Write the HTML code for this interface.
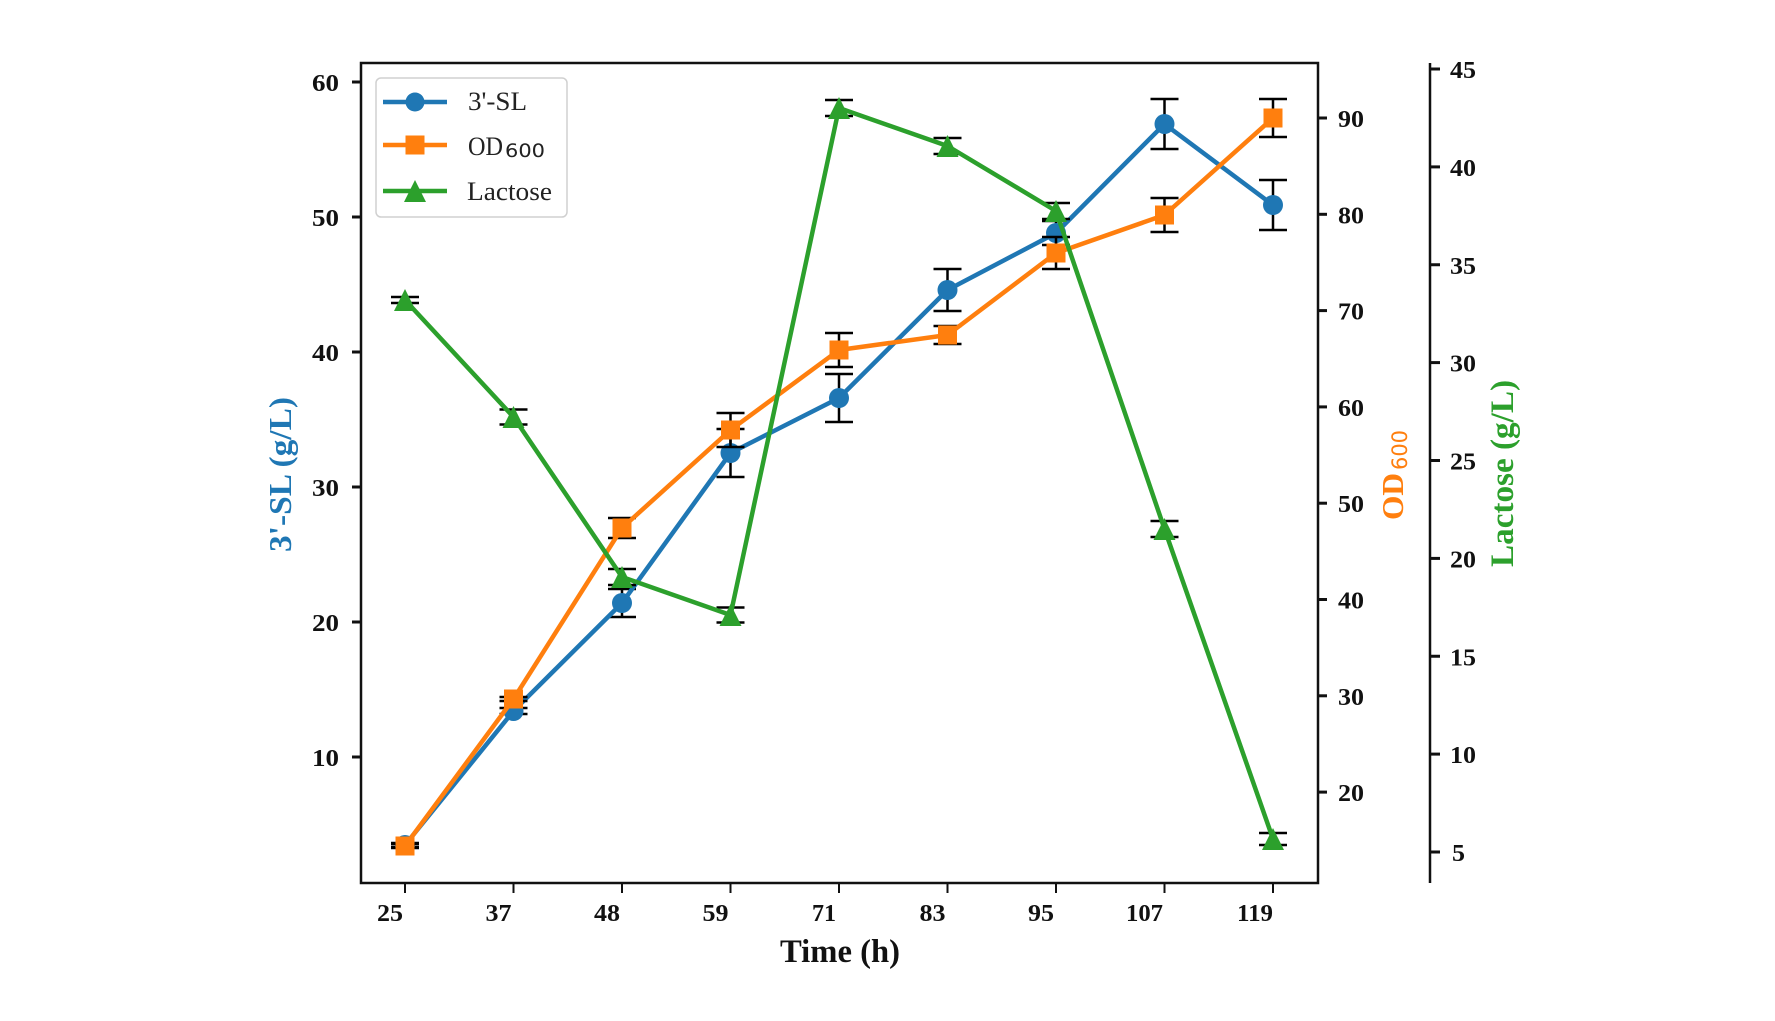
<!DOCTYPE html>
<html>
<head>
<meta charset="utf-8">
<style>
html,body{margin:0;padding:0;background:#fff;}
svg{display:block;}
.tk{font-family:"Liberation Serif",serif;font-weight:bold;font-size:24px;fill:#111;}
</style>
</head>
<body>
<svg width="1775" height="1021" viewBox="0 0 1775 1021" xmlns="http://www.w3.org/2000/svg">
<rect x="0" y="0" width="1775" height="1021" fill="#fff"/>

<!-- Left y ticks -->
<g stroke="#111" stroke-width="3">
<line x1="352" y1="82" x2="361" y2="82"/>
<line x1="352" y1="217" x2="361" y2="217"/>
<line x1="352" y1="352" x2="361" y2="352"/>
<line x1="352" y1="487" x2="361" y2="487"/>
<line x1="352" y1="622" x2="361" y2="622"/>
<line x1="352" y1="757" x2="361" y2="757"/>
</g>
<g class="tk" text-anchor="end">
<text x="339" y="91" textLength="27" lengthAdjust="spacingAndGlyphs">60</text>
<text x="339" y="226" textLength="27" lengthAdjust="spacingAndGlyphs">50</text>
<text x="339" y="361" textLength="27" lengthAdjust="spacingAndGlyphs">40</text>
<text x="339" y="496" textLength="27" lengthAdjust="spacingAndGlyphs">30</text>
<text x="339" y="631" textLength="27" lengthAdjust="spacingAndGlyphs">20</text>
<text x="339" y="766" textLength="27" lengthAdjust="spacingAndGlyphs">10</text>
</g>

<!-- X ticks -->
<g stroke="#111" stroke-width="2">
<line x1="405" y1="883" x2="405" y2="893"/>
<line x1="513.5" y1="883" x2="513.5" y2="893"/>
<line x1="622" y1="883" x2="622" y2="893"/>
<line x1="730.5" y1="883" x2="730.5" y2="893"/>
<line x1="839" y1="883" x2="839" y2="893"/>
<line x1="947.5" y1="883" x2="947.5" y2="893"/>
<line x1="1056" y1="883" x2="1056" y2="893"/>
<line x1="1164.5" y1="883" x2="1164.5" y2="893"/>
<line x1="1273" y1="883" x2="1273" y2="893"/>
</g>
<g class="tk" text-anchor="end">
<text x="403" y="921" textLength="26" lengthAdjust="spacingAndGlyphs">25</text>
<text x="511.5" y="921" textLength="26" lengthAdjust="spacingAndGlyphs">37</text>
<text x="620" y="921" textLength="26" lengthAdjust="spacingAndGlyphs">48</text>
<text x="728.5" y="921" textLength="26" lengthAdjust="spacingAndGlyphs">59</text>
<text x="836" y="921" textLength="24" lengthAdjust="spacingAndGlyphs">71</text>
<text x="945.5" y="921" textLength="26" lengthAdjust="spacingAndGlyphs">83</text>
<text x="1054" y="921" textLength="26" lengthAdjust="spacingAndGlyphs">95</text>
<text x="1163" y="921" textLength="37" lengthAdjust="spacingAndGlyphs">107</text>
<text x="1273" y="921" textLength="36" lengthAdjust="spacingAndGlyphs">119</text>
</g>
<text x="840" y="962" text-anchor="middle" font-family="Liberation Serif, serif" font-weight="bold" font-size="33" fill="#111" textLength="120" lengthAdjust="spacingAndGlyphs">Time (h)</text>

<!-- OD ticks (right of main axes) -->
<g stroke="#111" stroke-width="3">
<line x1="1318" y1="118" x2="1327" y2="118"/>
<line x1="1318" y1="214.3" x2="1327" y2="214.3"/>
<line x1="1318" y1="310.6" x2="1327" y2="310.6"/>
<line x1="1318" y1="406.9" x2="1327" y2="406.9"/>
<line x1="1318" y1="503.2" x2="1327" y2="503.2"/>
<line x1="1318" y1="599.5" x2="1327" y2="599.5"/>
<line x1="1318" y1="695.8" x2="1327" y2="695.8"/>
<line x1="1318" y1="792.1" x2="1327" y2="792.1"/>
</g>
<g class="tk" text-anchor="start">
<text x="1338" y="127" textLength="26" lengthAdjust="spacingAndGlyphs">90</text>
<text x="1338" y="223.3" textLength="26" lengthAdjust="spacingAndGlyphs">80</text>
<text x="1338" y="319.6" textLength="26" lengthAdjust="spacingAndGlyphs">70</text>
<text x="1338" y="415.9" textLength="26" lengthAdjust="spacingAndGlyphs">60</text>
<text x="1338" y="512.2" textLength="26" lengthAdjust="spacingAndGlyphs">50</text>
<text x="1338" y="608.5" textLength="26" lengthAdjust="spacingAndGlyphs">40</text>
<text x="1338" y="704.8" textLength="26" lengthAdjust="spacingAndGlyphs">30</text>
<text x="1338" y="801.1" textLength="26" lengthAdjust="spacingAndGlyphs">20</text>
</g>

<!-- Lactose axis -->
<line x1="1430" y1="63" x2="1430" y2="883" stroke="#111" stroke-width="2.5"/>
<g stroke="#111" stroke-width="3">
<line x1="1430" y1="69" x2="1440" y2="69"/>
<line x1="1430" y1="166.9" x2="1440" y2="166.9"/>
<line x1="1430" y1="264.75" x2="1440" y2="264.75"/>
<line x1="1430" y1="362.6" x2="1440" y2="362.6"/>
<line x1="1430" y1="460.5" x2="1440" y2="460.5"/>
<line x1="1430" y1="558.4" x2="1440" y2="558.4"/>
<line x1="1430" y1="656.25" x2="1440" y2="656.25"/>
<line x1="1430" y1="754.1" x2="1440" y2="754.1"/>
<line x1="1430" y1="852" x2="1440" y2="852"/>
</g>
<g class="tk" text-anchor="start">
<text x="1450" y="78" textLength="26" lengthAdjust="spacingAndGlyphs">45</text>
<text x="1450" y="175.9" textLength="26" lengthAdjust="spacingAndGlyphs">40</text>
<text x="1450" y="273.75" textLength="26" lengthAdjust="spacingAndGlyphs">35</text>
<text x="1450" y="371.6" textLength="26" lengthAdjust="spacingAndGlyphs">30</text>
<text x="1450" y="469.5" textLength="26" lengthAdjust="spacingAndGlyphs">25</text>
<text x="1450" y="567.4" textLength="26" lengthAdjust="spacingAndGlyphs">20</text>
<text x="1450" y="665.25" textLength="26" lengthAdjust="spacingAndGlyphs">15</text>
<text x="1450" y="763.1" textLength="26" lengthAdjust="spacingAndGlyphs">10</text>
<text x="1452" y="861" textLength="13" lengthAdjust="spacingAndGlyphs">5</text>
</g>

<!-- Axis labels -->
<text transform="translate(291,474.5) rotate(-90)" text-anchor="middle" font-family="Liberation Serif, serif" font-weight="bold" font-size="32" fill="#1f77b4" textLength="155" lengthAdjust="spacingAndGlyphs">3'-SL (g/L)</text>
<g transform="translate(1403,520) rotate(-90)">
<text x="0" y="0" font-family="Liberation Serif, serif" font-weight="bold" font-size="31" fill="#ff7f0e" textLength="47" lengthAdjust="spacingAndGlyphs">OD</text>
<text x="50" y="4" font-family="DejaVu Sans, sans-serif" font-size="21" fill="#ff7f0e" textLength="40" lengthAdjust="spacingAndGlyphs">600</text>
</g>
<text transform="translate(1513,473.5) rotate(-90)" text-anchor="middle" font-family="Liberation Serif, serif" font-weight="bold" font-size="33" fill="#2ca02c" textLength="187" lengthAdjust="spacingAndGlyphs">Lactose (g/L)</text>

<!-- ===== 3'-SL series ===== -->
<g stroke="#000" stroke-width="2.5" fill="none">
<path d="M405 843V847M391 843H419M391 847H419"/>
<path d="M513.5 708V714M499.5 708H527.5M499.5 714H527.5"/>
<path d="M622 589V617M608 589H636M608 617H636"/>
<path d="M730.5 429V477M716.5 429H744.5M716.5 477H744.5"/>
<path d="M839 374V422M825 374H853M825 422H853"/>
<path d="M947.5 269V311M933.5 269H961.5M933.5 311H961.5"/>
<path d="M1056 221V245M1042 221H1070M1042 245H1070"/>
<path d="M1164.5 99V149M1150.5 99H1178.5M1150.5 149H1178.5"/>
<path d="M1273 180V230M1259 180H1287M1259 230H1287"/>
</g>
<polyline points="405,845 513.5,711 622,603 730.5,453 839,398 947.5,290 1056,233 1164.5,124 1273,205" fill="none" stroke="#1f77b4" stroke-width="4.5" stroke-linejoin="round"/>
<g fill="#1f77b4">
<circle cx="405" cy="845" r="10"/>
<circle cx="513.5" cy="711" r="10"/>
<circle cx="622" cy="603" r="10"/>
<circle cx="730.5" cy="453" r="10"/>
<circle cx="839" cy="398" r="10"/>
<circle cx="947.5" cy="290" r="10"/>
<circle cx="1056" cy="233" r="10"/>
<circle cx="1164.5" cy="124" r="10"/>
<circle cx="1273" cy="205" r="10"/>
</g>

<!-- ===== OD600 series ===== -->
<g stroke="#000" stroke-width="2.5" fill="none">
<path d="M405 844V848M391 844H419M391 848H419"/>
<path d="M513.5 697V701M499.5 697H527.5M499.5 701H527.5"/>
<path d="M622 518V538M608 518H636M608 538H636"/>
<path d="M730.5 413V447M716.5 413H744.5M716.5 447H744.5"/>
<path d="M839 333V367M825 333H853M825 367H853"/>
<path d="M947.5 326V344M933.5 326H961.5M933.5 344H961.5"/>
<path d="M1056 237V269M1042 237H1070M1042 269H1070"/>
<path d="M1164.5 198V232M1150.5 198H1178.5M1150.5 232H1178.5"/>
<path d="M1273 99V137M1259 99H1287M1259 137H1287"/>
</g>
<polyline points="405,846 513.5,699 622,528 730.5,430 839,350 947.5,335 1056,253 1164.5,215 1273,118" fill="none" stroke="#ff7f0e" stroke-width="4.5" stroke-linejoin="round"/>
<g fill="#ff7f0e">
<rect x="395.5" y="836.5" width="19" height="19"/>
<rect x="504" y="689.5" width="19" height="19"/>
<rect x="612.5" y="518.5" width="19" height="19"/>
<rect x="721" y="420.5" width="19" height="19"/>
<rect x="829.5" y="340.5" width="19" height="19"/>
<rect x="938" y="325.5" width="19" height="19"/>
<rect x="1046.5" y="243.5" width="19" height="19"/>
<rect x="1155" y="205.5" width="19" height="19"/>
<rect x="1263.5" y="108.5" width="19" height="19"/>
</g>

<!-- ===== Lactose series ===== -->
<g stroke="#000" stroke-width="2.5" fill="none">
<path d="M405 297V303M391 297H419M391 303H419"/>
<path d="M513.5 409.5V424.5M499.5 409.5H527.5M499.5 424.5H527.5"/>
<path d="M622 569V585M608 569H636M608 585H636"/>
<path d="M730.5 607.5V622.5M716.5 607.5H744.5M716.5 622.5H744.5"/>
<path d="M839 100V116M825 100H853M825 116H853"/>
<path d="M947.5 138V154M933.5 138H961.5M933.5 154H961.5"/>
<path d="M1056 203V219M1042 203H1070M1042 219H1070"/>
<path d="M1164.5 521V537M1150.5 521H1178.5M1150.5 537H1178.5"/>
<path d="M1273 833V845M1259 833H1287M1259 845H1287"/>
</g>
<polyline points="405,300 513.5,417 622,577 730.5,615 839,108 947.5,146 1056,211 1164.5,529 1273,839" fill="none" stroke="#2ca02c" stroke-width="4.5" stroke-linejoin="round"/>
<g fill="#2ca02c">
<polygon points="405,289 394,311 416,311"/>
<polygon points="513.5,406 502.5,428 524.5,428"/>
<polygon points="622,566 611,588 633,588"/>
<polygon points="730.5,604 719.5,626 741.5,626"/>
<polygon points="839,97 828,119 850,119"/>
<polygon points="947.5,135 936.5,157 958.5,157"/>
<polygon points="1056,200 1045,222 1067,222"/>
<polygon points="1164.5,518 1153.5,540 1175.5,540"/>
<polygon points="1273,828 1262,850 1284,850"/>
</g>

<!-- Main axes frame -->
<rect x="361" y="63" width="957" height="820" fill="none" stroke="#111" stroke-width="2.5"/>

<!-- Legend -->
<rect x="376" y="78" width="191" height="139" rx="5" ry="5" fill="#fff" fill-opacity="0.85" stroke="#d0d0d0" stroke-width="1.5"/>
<line x1="383" y1="102" x2="447" y2="102" stroke="#1f77b4" stroke-width="4.5"/>
<circle cx="415" cy="102" r="9.5" fill="#1f77b4"/>
<line x1="383" y1="145" x2="447" y2="145" stroke="#ff7f0e" stroke-width="4.5"/>
<rect x="405.5" y="135.5" width="19" height="19" fill="#ff7f0e"/>
<line x1="383" y1="191" x2="447" y2="191" stroke="#2ca02c" stroke-width="4.5"/>
<polygon points="415,180 404,202 426,202" fill="#2ca02c"/>
<g font-family="Liberation Serif, serif" font-size="26" fill="#222">
<text x="468" y="110" textLength="59" lengthAdjust="spacingAndGlyphs">3'-SL</text>
<text x="468" y="155" textLength="35" lengthAdjust="spacingAndGlyphs">OD</text>
<text x="467" y="200" textLength="85" lengthAdjust="spacingAndGlyphs">Lactose</text>
</g>
<text x="505" y="157" font-family="DejaVu Sans, sans-serif" font-size="19" fill="#222" textLength="40" lengthAdjust="spacingAndGlyphs">600</text>
</svg>
</body>
</html>
